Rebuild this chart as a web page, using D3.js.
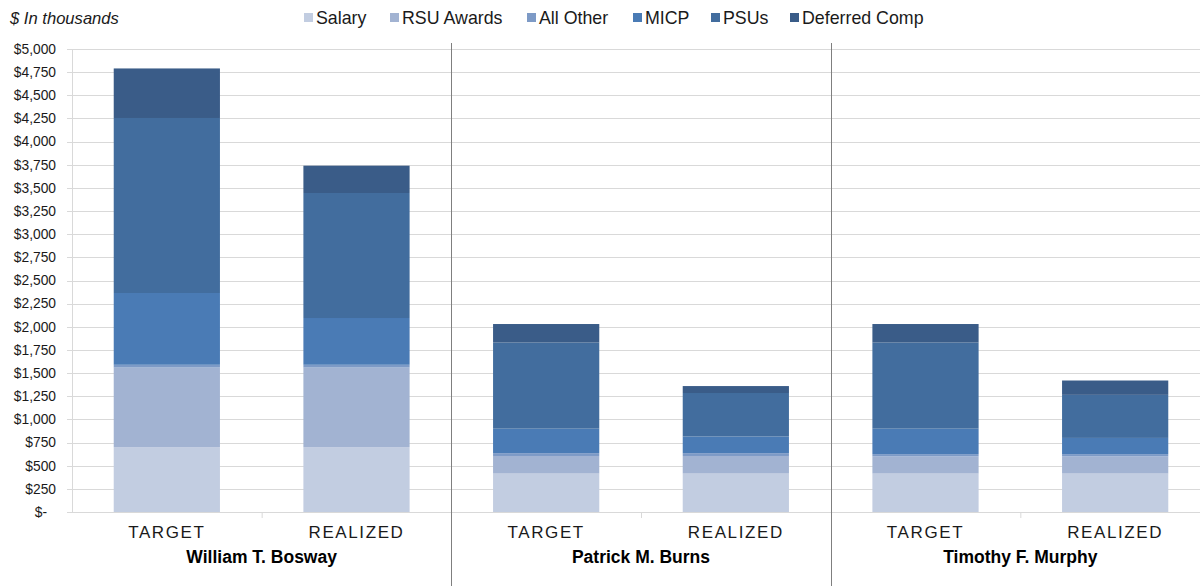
<!DOCTYPE html>
<html><head><meta charset="utf-8">
<script src="https://cdn.jsdelivr.net/npm/d3@7"></script>
<style>
html,body{margin:0;padding:0;background:#fff;}
svg{display:block;font-family:"Liberation Sans",Arial,sans-serif;}
</style></head>
<body><svg id="chart" width="1200" height="586"></svg>
<script>
const executives = ["William T. Bosway", "Patrick M. Burns", "Timothy F. Murphy"];
const barTypes = ["TARGET", "REALIZED"];
const seriesNames = ["Salary", "RSU Awards", "All Other", "MICP", "PSUs", "Deferred Comp"];
const seriesColors = ["#c2cde1", "#a2b3d2", "#7d9ac6", "#4a7bb5", "#426d9e", "#3a5c88"];
// order of bars: Bosway T, Bosway R, Burns T, Burns R, Murphy T, Murphy R
const salary     = [700, 700, 415, 415, 415, 415];
const rsuAwards  = [860, 860, 190, 190, 185, 185];
const allOther   = [30, 30, 30, 30, 25, 25];
const micp       = [775, 505, 265, 180, 275, 175];
const psus       = [1890, 1350, 930, 470, 930, 465];
const deferred   = [535, 295, 200, 75, 200, 155];
const yTicks = [0, 250, 500, 750, 1000, 1250, 1500, 1750, 2000, 2250, 2500, 2750, 3000, 3250, 3500, 3750, 4000, 4250, 4500, 4750, 5000];

const seriesValues = [salary, rsuAwards, allOther, micp, psus, deferred];
const bars = [];
executives.forEach((e, i) => barTypes.forEach((t, j) => {
  const idx = i * 2 + j;
  const row = {key: idx, exec: e, type: t};
  seriesNames.forEach((s, k) => row[s] = seriesValues[k][idx]);
  bars.push(row);
}));

const svg = d3.select("#chart");
const x0 = 72, x1 = 1210, yTop = 49, yBot = 512;
const x = d3.scaleBand().domain(bars.map(d => d.key)).range([x0, x1]).paddingInner(0.44).paddingOuter(0.22);
const y = d3.scaleLinear().domain([0, 5000]).range([yBot, yTop]);

// gridlines
svg.append("g").selectAll("line").data(yTicks).join("line")
  .attr("x1", 67).attr("x2", 1200)
  .attr("y1", d => Math.round(y(d)) + 0.5).attr("y2", d => Math.round(y(d)) + 0.5)
  .attr("stroke", "#d9d9d9").attr("stroke-width", 1);

// y axis labels
const fmt = d => d === 0 ? "$-" : "$" + d3.format(",")(d);
svg.append("g").selectAll("text").data(yTicks).join("text")
  .attr("x", d => d === 0 ? 47 : 56).attr("y", d => y(d)).attr("dy", "0.35em")
  .attr("text-anchor", "end").attr("font-size", 13.8).attr("fill", "#1a1a1a")
  .text(fmt);

// vertical axis line
svg.append("line").attr("x1", 72.5).attr("x2", 72.5).attr("y1", yTop).attr("y2", yBot)
  .attr("stroke", "#d9d9d9");

// stacked bars
const stack = d3.stack().keys(seriesNames)(bars);
const color = d3.scaleOrdinal().domain(seriesNames).range(seriesColors);
svg.append("g").selectAll("g").data(stack).join("g")
  .attr("fill", s => color(s.key))
  .selectAll("rect").data(s => s).join("rect")
  .attr("x", d => x(d.data.key)).attr("width", x.bandwidth())
  .attr("y", d => y(d[1])).attr("height", d => y(d[0]) - y(d[1]));

// category tick marks at bottom
const step = x.step();
svg.append("g").selectAll("line").data([1, 3, 5]).join("line")
  .attr("x1", i => x0 + i * step + 0.5).attr("x2", i => x0 + i * step + 0.5)
  .attr("y1", yBot).attr("y2", yBot + 6).attr("stroke", "#d9d9d9");

// group separators
svg.append("g").selectAll("line").data([2, 4]).join("line")
  .attr("x1", i => Math.round(x0 + i * step) + 0.5).attr("x2", i => Math.round(x0 + i * step) + 0.5)
  .attr("y1", 43).attr("y2", 586).attr("stroke", "#7f7f7f").attr("stroke-width", 1);

// bar type labels
svg.append("g").selectAll("text").data(bars).join("text")
  .attr("x", d => x(d.key) + x.bandwidth() / 2).attr("y", 538)
  .attr("text-anchor", "middle").attr("font-size", 17).attr("letter-spacing", 1.6)
  .attr("fill", "#1a1a1a").text(d => d.type);

// executive names
svg.append("g").selectAll("text").data(executives).join("text")
  .attr("x", (d, i) => x0 + (2 * i + 1) * step).attr("y", 562.5)
  .attr("text-anchor", "middle").attr("font-size", 17.5).attr("font-weight", "bold")
  .attr("fill", "#000").text(d => d);

// subtitle
svg.append("text").attr("x", 10).attr("y", 23.5).attr("font-size", 16.6)
  .attr("font-style", "italic").attr("fill", "#1a1a1a").text("$ In thousands");

// legend
const legendX = [304, 390, 527, 633, 711, 790];
const lg = svg.append("g").selectAll("g").data(seriesNames).join("g")
  .attr("transform", (d, i) => `translate(${legendX[i]},0)`);
lg.append("rect").attr("x", 0).attr("y", 13).attr("width", 9).attr("height", 9)
  .attr("fill", d => color(d));
lg.append("text").attr("x", 12).attr("y", 23.5).attr("font-size", 17.8).attr("fill", "#1a1a1a")
  .text(d => d);
</script></body></html>
